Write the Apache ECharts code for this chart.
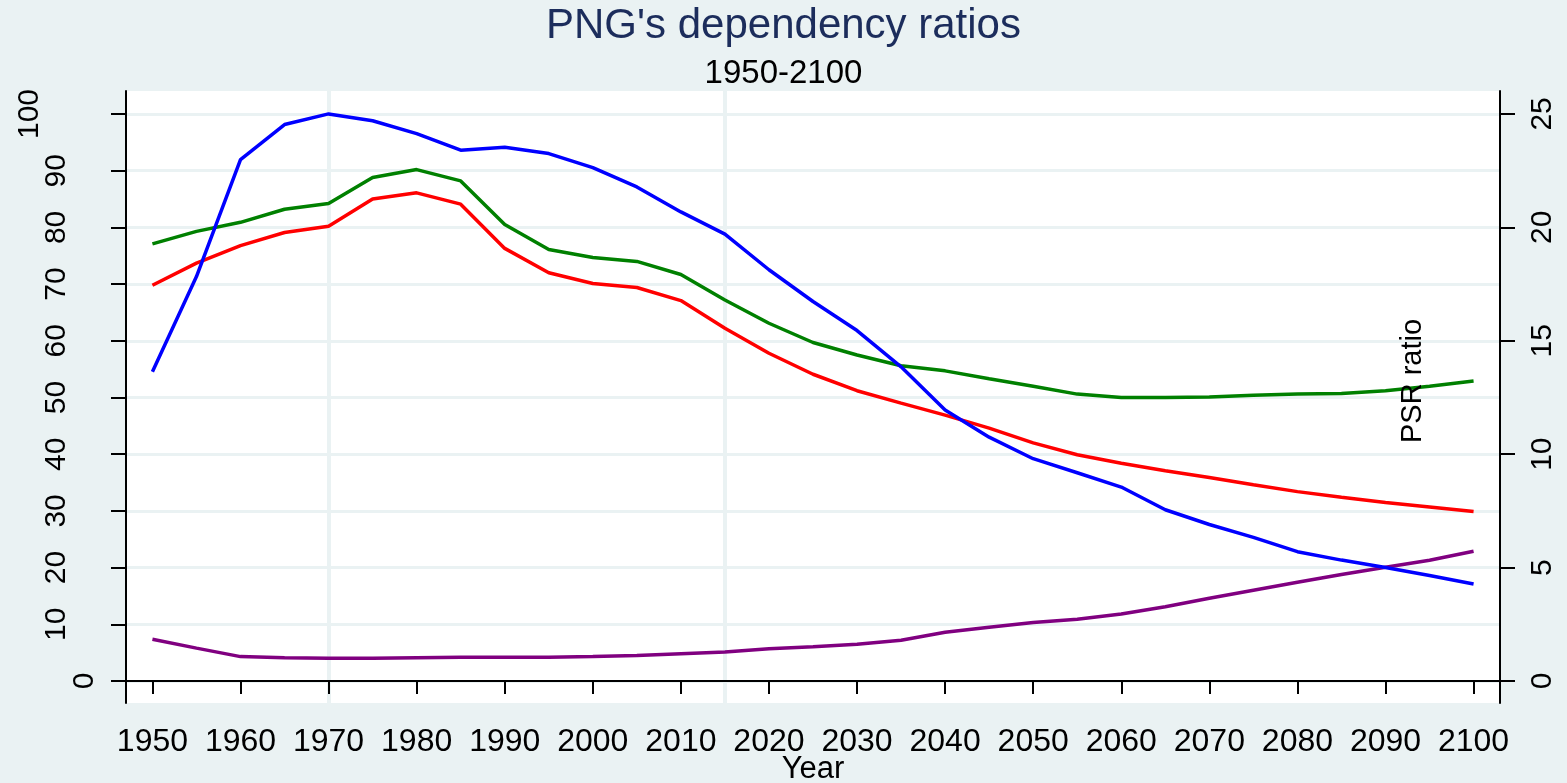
<!DOCTYPE html>
<html>
<head>
<meta charset="utf-8">
<title>PNG's dependency ratios</title>
<script src="https://cdn.jsdelivr.net/npm/echarts@6/dist/echarts.min.js"></script>
<style>
  html, body { margin: 0; padding: 0; background: #eaf2f3; }
  #main { width: 1567px; height: 783px; }
</style>
</head>
<body>
<div id="main"></div>
<script>
// values
const years = [1950, 1955, 1960, 1965, 1970, 1975, 1980, 1985, 1990, 1995, 2000,
  2005, 2010, 2015, 2020, 2025, 2030, 2035, 2040, 2045, 2050, 2055, 2060, 2065,
  2070, 2075, 2080, 2085, 2090, 2095, 2100];
const totalDep = [77.1, 79.3, 80.9, 83.2, 84.2, 88.8, 90.2, 88.2, 80.5, 76.1, 74.7,
  74.0, 71.7, 67.2, 63.1, 59.7, 57.5, 55.6, 54.7, 53.3, 52.0, 50.6, 50.0, 50.0,
  50.1, 50.4, 50.6, 50.7, 51.2, 52.0, 52.9];
const youngDep = [69.8, 73.7, 76.8, 79.1, 80.2, 85.0, 86.1, 84.1, 76.3, 72.0, 70.1,
  69.4, 67.1, 62.2, 57.8, 54.1, 51.2, 49.0, 46.9, 44.6, 42.0, 39.9, 38.4, 37.1,
  35.9, 34.6, 33.4, 32.4, 31.5, 30.7, 29.9];
const oldDep = [7.35, 5.8, 4.3, 4.1, 4.0, 4.0, 4.1, 4.2, 4.2, 4.2, 4.3,
  4.5, 4.8, 5.1, 5.7, 6.05, 6.5, 7.2, 8.6, 9.5, 10.3, 10.9, 11.8, 13.1,
  14.6, 16.0, 17.4, 18.8, 20.05, 21.3, 22.9];
const psr = [13.63, 17.83, 22.98, 24.53, 25.0, 24.7, 24.13, 23.4, 23.53, 23.25, 22.63,
  21.78, 20.68, 19.7, 18.13, 16.73, 15.45, 13.85, 11.95, 10.75, 9.8, 9.18, 8.55, 7.55,
  6.9, 6.33, 5.7, 5.33, 5.0, 4.65, 4.28];

const xTicks = [1950, 1960, 1970, 1980, 1990, 2000, 2010, 2020, 2030, 2040, 2050,
  2060, 2070, 2080, 2090, 2100];
const leftTicks = [0, 10, 20, 30, 40, 50, 60, 70, 80, 90, 100];
const rightTicks = [0, 5, 10, 15, 20, 25];
const xLines = [1970, 2015];

const FONT = "Liberation Sans";
const pairs = vals => years.map((y, i) => [y, vals[i]]);

function lineSeries(name, vals, color, axis) {
  return {
    name: name,
    type: "line",
    yAxisIndex: axis,
    z: 10,
    data: pairs(vals),
    showSymbol: false,
    lineStyle: { color: color, width: 3.5 },
    itemStyle: { color: color }
  };
}

let myChart = echarts.init(document.getElementById("main"));
myChart.setOption({
  backgroundColor: "#eaf2f3",
  animation: false,
  title: [
    {
      text: "PNG's dependency ratios",
      left: "center",
      top: 0,
      textStyle: { fontFamily: FONT, fontSize: 42, fontWeight: "normal", color: "#1c2d5c" }
    },
    {
      text: "1950-2100",
      left: "center",
      top: 52,
      textStyle: { fontFamily: FONT, fontSize: 33, fontWeight: "normal", color: "#000" }
    }
  ],
  grid: {
    left: 126, right: 67, top: 91, bottom: 80,
    outerBoundsMode: "none",
    containLabel: false,
    show: true, backgroundColor: "#fff", borderWidth: 0
  },
  xAxis: [
    {
      type: "value",
      min: 1947,
      max: 2103,
      name: "Year",
      nameLocation: "middle",
      nameGap: 51,
      nameMoveOverlap: false,
      nameTextStyle: { fontFamily: FONT, fontSize: 31, color: "#000" },
      axisLine: { show: true, lineStyle: { color: "#000", width: 2 } },
      axisTick: { show: true, length: 13, customValues: xTicks, lineStyle: { color: "#000", width: 2 } },
      axisLabel: {
        customValues: xTicks,
        margin: 23,
        fontFamily: FONT,
        fontSize: 32,
        color: "#000",
        formatter: v => String(v)
      },
      splitLine: { show: false }
    },
    {
      // carries only the two vertical reference lines
      type: "value",
      min: 1947,
      max: 2103,
      position: "bottom",
      axisLine: { show: false },
      axisTick: { show: false, customValues: xLines },
      axisLabel: { show: false, customValues: xLines },
      splitLine: { show: true, lineStyle: { color: "#eaf2f3", width: 4 } }
    }
  ],
  yAxis: [
    {
      type: "value",
      min: -3.88,
      max: 104.06,
      axisLine: { show: true, lineStyle: { color: "#000", width: 2 } },
      axisTick: { show: true, length: 15, customValues: leftTicks, lineStyle: { color: "#000", width: 2 } },
      axisLabel: {
        customValues: leftTicks,
        rotate: 90,
        margin: 26,
        fontFamily: FONT,
        fontSize: 30,
        color: "#000",
        formatter: v => "{p" + String(v).length + "|" + v + "}",
        rich: {
          p1: { fontFamily: FONT, fontSize: 30, padding: [0, 0, 0, 0] },
          p2: { fontFamily: FONT, fontSize: 30, padding: [0, 0, 28, 0] },
          p3: { fontFamily: FONT, fontSize: 30, padding: [0, 0, 55, 0] }
        }
      },
      splitLine: { show: true, lineStyle: { color: "#eaf2f3", width: 3 } }
    },
    {
      type: "value",
      min: -0.97,
      max: 26.01,
      position: "right",
      axisLine: { show: true, lineStyle: { color: "#000", width: 2 } },
      axisTick: { show: true, length: 15, customValues: rightTicks, lineStyle: { color: "#000", width: 2 } },
      axisLabel: { customValues: rightTicks, rotate: 90, margin: 28, fontFamily: FONT, fontSize: 30, color: "#000" },
      splitLine: { show: false }
    }
  ],
  graphic: [
    {
      type: "text",
      x: 1413,
      y: 381,
      rotation: Math.PI / 2,
      z: 20,
      style: {
        text: "PSR ratio",
        fontFamily: FONT,
        fontSize: 29,
        fill: "#000",
        align: "center",
        verticalAlign: "middle"
      }
    }
  ],
  series: [
    lineSeries("Young dependency", youngDep, "#ff0000", 0),
    lineSeries("Total dependency", totalDep, "#008000", 0),
    lineSeries("Old dependency", oldDep, "#800080", 0),
    lineSeries("PSR ratio", psr, "#0000ff", 1)
  ]
});
</script>
</body>
</html>
